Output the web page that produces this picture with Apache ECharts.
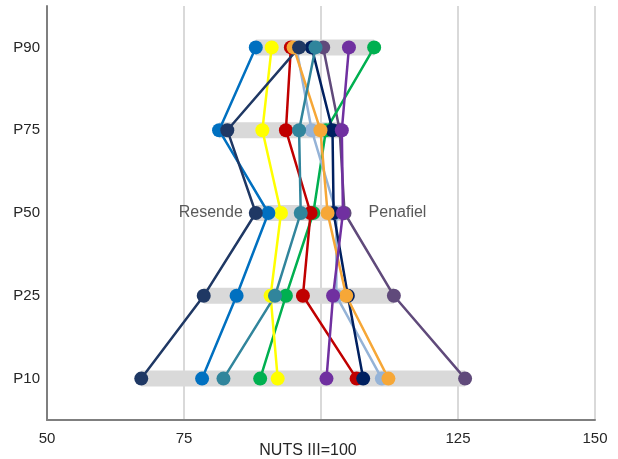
<!DOCTYPE html>
<html>
<head>
<meta charset="utf-8">
<script src="https://cdn.jsdelivr.net/npm/echarts@6/dist/echarts.min.js"></script>
<style>html,body{margin:0;padding:0;background:#fff}#c{width:618px;height:459px}</style>
</head>
<body>
<div id="c"></div>
<script>
// Percentile categories (bottom to top)
var categories = ['P10', 'P25', 'P50', 'P75', 'P90'];
var xTicks = [50, 75, 100, 125, 150];

// Index values (NUTS III = 100) per region, order P10, P25, P50, P75, P90
var penafiel  = [126.3, 113.3, 104.3, 103.4, 100.4];
var greenS    = [88.9, 93.6, 98.6, 100.9, 109.7];
var yellowS   = [92.1, 90.8, 92.7, 89.3, 91.0];
var lightBlue = [111.1, 102.8, 102.8, 98.3, 95.5];
var redS      = [106.5, 96.7, 98.1, 93.6, 94.5];
var blueS     = [78.3, 84.6, 90.4, 81.4, 88.1];
var navy2S    = [107.7, 104.9, 102.3, 102.1, 98.3];
var orangeS   = [112.3, 104.6, 101.2, 99.9, 95.0];
var tealS     = [82.2, 91.6, 96.3, 96.0, 99.0];
var resende   = [67.2, 78.6, 88.1, 82.9, 96.0];
var purpleS   = [101.0, 102.2, 104.0, 103.8, 105.1];

var lines = [
  {name: 'Penafiel', data: penafiel, color: '#604A7B', label: 'right'},
  {name: 'S1', data: greenS, color: '#00B050'},
  {name: 'S2', data: yellowS, color: '#FFFF00'},
  {name: 'S3', data: lightBlue, color: '#95B3D7'},
  {name: 'S4', data: redS, color: '#C00000'},
  {name: 'S5', data: blueS, color: '#0070C0'},
  {name: 'S6', data: navy2S, color: '#002060'},
  {name: 'S7', data: orangeS, color: '#F6A737'},
  {name: 'S8', data: tealS, color: '#31859C'},
  {name: 'Resende', data: resende, color: '#1F3864', label: 'left'},
  {name: 'S9', data: purpleS, color: '#7030A0'}
];

var mins = categories.map(function (c, i) {
  return Math.min.apply(null, lines.map(function (l) { return l.data[i]; }));
});
var maxs = categories.map(function (c, i) {
  return Math.max.apply(null, lines.map(function (l) { return l.data[i]; }));
});
var spans = maxs.map(function (m, i) { return +(m - mins[i]).toFixed(2); });

var font = '"Liberation Sans", Arial, sans-serif';
var series = [
  {type: 'bar', stack: 'band', data: mins, barWidth: 16, itemStyle: {color: 'transparent'}, silent: true, z: 1},
  {type: 'bar', stack: 'band', data: spans, barWidth: 16, itemStyle: {color: '#D9D9D9'}, silent: true, z: 1}
];
lines.forEach(function (l) {
  series.push({
    type: 'line',
    name: l.name,
    symbol: 'circle',
    symbolSize: 14,
    z: 3,
    lineStyle: {color: l.color, width: 2.5},
    itemStyle: {color: l.color},
    data: l.data.map(function (v, i) {
      var d = {value: [v, i]};
      if (l.label && i === 2) {
        d.label = {
          show: true,
          position: l.label,
          distance: l.label === 'left' ? 6 : 17,
          formatter: l.name,
          color: '#595959',
          fontSize: 16,
          fontFamily: font
        };
      }
      return d;
    }),
    emphasis: {disabled: true}
  });
});

var chart = echarts.init(document.getElementById('c'));
chart.setOption({
  animation: false,
  grid: {left: 47, right: 23, top: 6, bottom: 34, containLabel: false},
  xAxis: {
    type: 'value', min: 50, max: 150, interval: 25,
    axisLine: {show: true, lineStyle: {color: '#7F7F7F', width: 2}},
    axisTick: {show: false},
    splitLine: {show: true, lineStyle: {color: '#D9D9D9', width: 2}},
    axisLabel: {
      margin: 11, color: '#262626', fontSize: 15, fontFamily: font,
      formatter: function (v) {
        if (xTicks.indexOf(v) < 0) return '';
        return v === 100 ? '{n|NUTS III=100}' : String(v);
      },
      rich: {n: {color: '#262626', fontSize: 16, fontFamily: font, padding: [12, 26, 0, 0]}}
    }
  },
  yAxis: {
    type: 'category', data: categories,
    axisLine: {show: true, lineStyle: {color: '#7F7F7F', width: 2}},
    axisTick: {show: false},
    axisLabel: {margin: 7, color: '#262626', fontSize: 15, fontFamily: font},
    splitLine: {show: false}
  },
  series: series
});
</script>
</body>
</html>
